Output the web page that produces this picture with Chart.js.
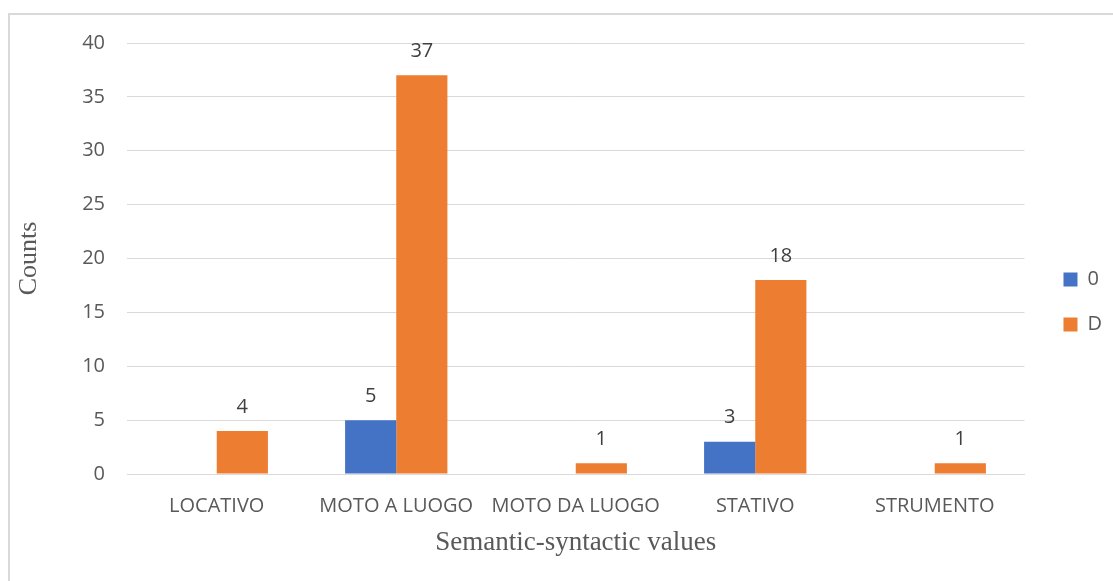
<!DOCTYPE html>
<html>
<head>
<meta charset="utf-8">
<title>Semantic-syntactic values</title>
<script src="https://cdn.jsdelivr.net/npm/chart.js@4/dist/chart.umd.min.js"></script>
<style>
	html, body { margin: 0; padding: 0; background: #fff; overflow: hidden; }
	#frame { position: absolute; left: 8px; top: 13px; width: 1200px; height: 700px; border: 2px solid #d9d9d9; }
	#wrap { position: absolute; left: 0; top: 0; width: 1113px; height: 581px; }
</style>
</head>
<body>
<div id="frame"></div>
<div id="wrap"><canvas id="countsChart" width="1113" height="581"></canvas></div>
<script>
const categories = ['LOCATIVO', 'MOTO A LUOGO', 'MOTO DA LUOGO', 'STATIVO', 'STRUMENTO'];
const series0 = [null, 5, null, 3, null];
const seriesD = [4, 37, 1, 18, 1];
const yTicks = [0, 5, 10, 15, 20, 25, 30, 35, 40];

const sans = '"Open Sans", "Noto Sans", sans-serif';
const serif = '"Liberation Serif", serif';

// prints each bar's value just above it
const barValues = {
	id: 'barValues',
	afterDatasetsDraw(chart) {
		const c = chart.ctx;
		c.save();
		c.font = '20px ' + sans;
		c.fillStyle = '#404040';
		c.textAlign = 'center';
		c.textBaseline = 'bottom';
		chart.data.datasets.forEach((ds, i) => {
			chart.getDatasetMeta(i).data.forEach((bar, j) => {
				const v = ds.data[j];
				if (v == null) return;
				c.fillText(String(v), bar.x, bar.y - 14);
			});
		});
		c.restore();
	}
};

// leave a wider gap between the plot and the legend
const legendGap = {
	id: 'legendGap',
	afterLayout(chart) {
		chart.legend.left += 14;
		chart.legend.right += 14;
	}
};

new Chart(document.getElementById('countsChart'), {
	type: 'bar',
	data: {
		labels: categories,
		datasets: [
			{ label: '0', data: series0, backgroundColor: '#4472c4' },
			{ label: 'D', data: seriesD, backgroundColor: '#ed7d31' }
		]
	},
	plugins: [barValues, legendGap],
	options: {
		responsive: false,
		animation: false,
		layout: { padding: { left: 14, top: 43, right: 15, bottom: 20 } },
		datasets: { bar: { categoryPercentage: 0.57, barPercentage: 1 } },
		plugins: {
			tooltip: { enabled: false },
			legend: {
				position: 'right',
				align: 'center',
				labels: {
					boxWidth: 14,
					boxHeight: 14,
					padding: 25,
					color: '#595959',
					font: { family: sans, size: 20 }
				}
			}
		},
		scales: {
			x: {
				afterFit(scale) { scale.height = 87; },
				grid: { display: false, drawTicks: false },
				border: { color: '#d9d9d9', width: 1 },
				ticks: {
					color: '#595959',
					padding: 20,
					maxRotation: 0,
					autoSkip: false,
					font: { family: sans, size: 20 }
				},
				title: {
					display: true,
					text: 'Semantic-syntactic values',
					color: '#595959',
					padding: { top: 4, bottom: 2 },
					font: { family: serif, size: 27 }
				}
			},
			y: {
				min: 0,
				max: 40,
				afterBuildTicks(scale) { scale.ticks = yTicks.map(v => ({ value: v })); },
				afterFit(scale) { scale.width = 113; },
				grid: { color: '#d9d9d9', lineWidth: 1, drawTicks: false },
				border: { display: false },
				ticks: {
					color: '#595959',
					padding: 22,
					font: { family: sans, size: 20 }
				},
				title: {
					display: true,
					text: 'Counts',
					color: '#595959',
					padding: { top: 0, bottom: 0 },
					font: { family: serif, size: 26 }
				}
			}
		}
	}
});
</script>
</body>
</html>
